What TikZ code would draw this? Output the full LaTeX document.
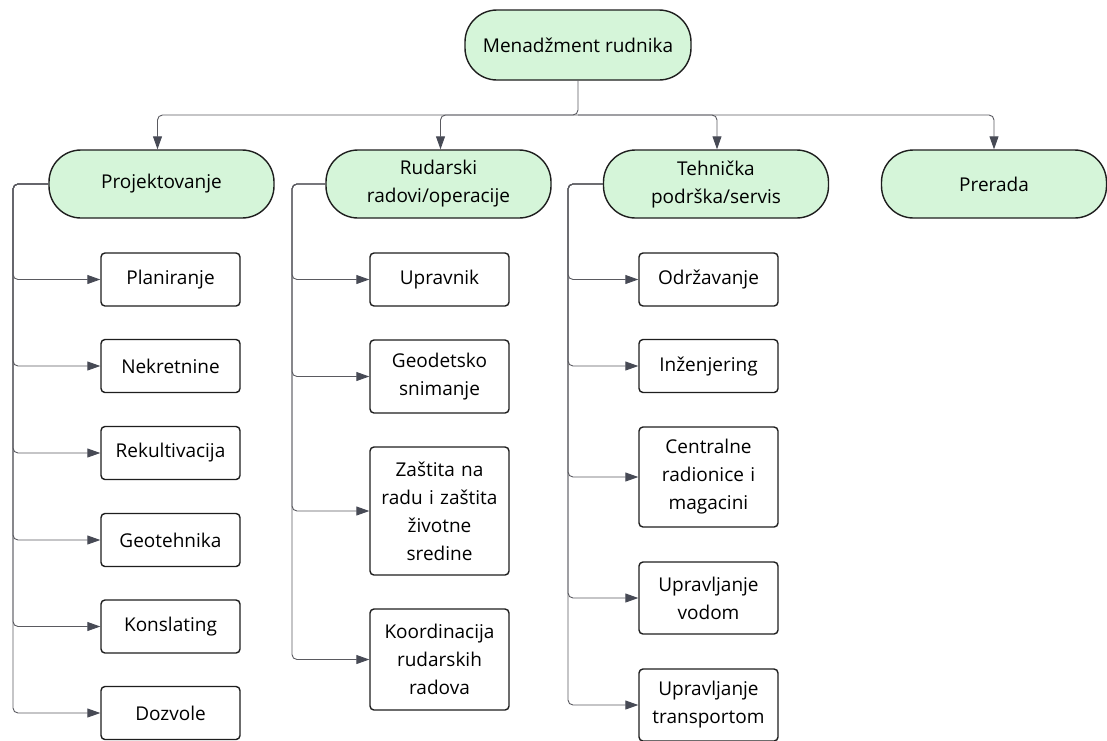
\documentclass[tikz,border=0pt]{standalone}
\usepackage{fontspec}
\setmainfont{Open Sans}
\usetikzlibrary{arrows.meta}
\definecolor{lvlgreen}{HTML}{D5F5D9}
\definecolor{edgedark}{HTML}{1E1E1E}
\definecolor{conngray}{HTML}{5A5A60}
\definecolor{tipgray}{HTML}{474A55}
\tikzset{
  topbox/.style={draw=edgedark, line width=1.4pt, fill=lvlgreen, rounded corners=32pt, minimum width=226pt, minimum height=70pt, inner sep=0pt, align=center, font=\fontsize{19}{28}\selectfont},
  lvlbox/.style={draw=edgedark, line width=1.4pt, fill=lvlgreen, rounded corners=32pt, minimum width=225pt, minimum height=68pt, inner sep=0pt, align=center, font=\fontsize{19}{28}\selectfont},
  childbox/.style={draw=edgedark, line width=1.4pt, fill=white, rounded corners=4pt, minimum width=139pt, inner sep=0pt, align=center, text width=135pt, font=\fontsize{19}{28}\selectfont},
  conn/.style={draw=conngray, line width=0.9pt, rounded corners=5pt},
  arr/.style={conn, -{Triangle[length=13pt,width=9pt,fill=tipgray,color=tipgray]}}
}
\begin{document}
\begin{tikzpicture}[x=1pt,y=-1pt]
\useasboundingbox (0,0) rectangle (1107,740);
% top
\node[topbox] (top) at (578,45) {Menadžment rudnika};
% level 1
\node[lvlbox] (p) at (161.5,184) {Projektovanje};
\node[lvlbox] (r) at (438.5,184) {Rudarski\\radovi/operacije};
\node[lvlbox] (t) at (716,184) {Tehnička\\podrška/servis};
\node[lvlbox] (pr) at (994,184) {Prerada};
% bus
\coordinate (bus) at (578,115);
\draw[arr] (top.south) -- (bus) -| ([xshift=-4pt]p.north);
\draw[arr] (bus) -| ([xshift=2pt]r.north);
\draw[arr] (bus) -| ([xshift=1pt]t.north);
\draw[arr] (bus) -| (pr.north);
% children Projektovanje
\node[childbox, minimum height=53pt] (p1) at (170.5,279.5) {Planiranje};
\node[childbox, minimum height=53pt] (p2) at (170.5,366) {Nekretnine};
\node[childbox, minimum height=53pt] (p3) at (170.5,453) {Rekultivacija};
\node[childbox, minimum height=53pt] (p4) at (170.5,540) {Geotehnika};
\node[childbox, minimum height=53pt] (p5) at (170.5,626.5) {Konslating};
\node[childbox, minimum height=53pt] (p6) at (170.5,713) {Dozvole};
% children Rudarski
\node[childbox, minimum height=53pt] (r1) at (439.5,279.5) {Upravnik};
\node[childbox, minimum height=73pt] (r2) at (439.5,376.5) {Geodetsko\\snimanje};
\node[childbox, minimum height=128pt] (r3) at (439.5,511) {Zaštita na\\radu i zaštita\\životne\\sredine};
\node[childbox, minimum height=101pt] (r4) at (439.5,659.5) {Koordinacija\\rudarskih\\radova};
% children Tehnička
\node[childbox, minimum height=53pt] (t1) at (708.5,279.5) {Održavanje};
\node[childbox, minimum height=53pt] (t2) at (708.5,366) {Inženjering};
\node[childbox, minimum height=100pt] (t3) at (708.5,477) {Centralne\\radionice i\\magacini};
\node[childbox, minimum height=72pt] (t4) at (708.5,598) {Upravljanje\\vodom};
\node[childbox, minimum height=72pt] (t5) at (708.5,705) {Upravljanje\\transportom};
% connectors
\coordinate (pc) at (13,184);
\coordinate (rc) at (292,184);
\coordinate (tc) at (568,184);
\foreach \c in {p1,p2,p3,p4,p5,p6}{\draw[arr] (p.west) -- (pc) |- (\c.west);}
\foreach \c in {r1,r2,r3,r4}{\draw[arr] (r.west) -- (rc) |- (\c.west);}
\foreach \c in {t1,t2,t3,t4,t5}{\draw[arr] (t.west) -- (tc) |- (\c.west);}
\end{tikzpicture}
\end{document}
